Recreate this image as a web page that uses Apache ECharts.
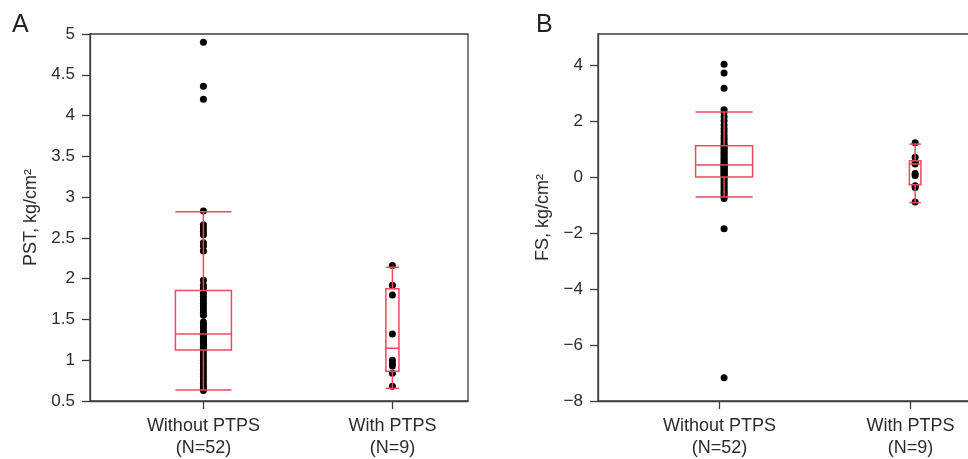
<!DOCTYPE html>
<html>
<head>
<meta charset="utf-8">
<script src="https://cdn.jsdelivr.net/npm/echarts@6/dist/echarts.min.js"></script>
<style>html,body{margin:0;padding:0;background:#fff}#c{width:968px;height:459px}</style>
</head>
<body>
<div id="c"></div>
<script>
// ---- data ----
const groups = ['Without PTPS\n(N=52)', 'With PTPS\n(N=9)'];
const pstWithout = [0.63, 0.65, 0.68, 0.72, 0.76, 0.80, 0.84, 0.88, 0.92, 0.96, 1.00, 1.04, 1.08, 1.12,
  1.14, 1.16, 1.18, 1.20, 1.22, 1.24, 1.26, 1.28, 1.30, 1.31, 1.32, 1.33,
  1.36, 1.40, 1.44, 1.47, 1.55, 1.58, 1.62, 1.66, 1.70, 1.74, 1.78, 1.82,
  1.88, 1.92, 1.98, 2.34, 2.40, 2.44, 2.54, 2.58, 2.62, 2.66, 2.83, 4.20, 4.36, 4.90];
const pstWith = [2.16, 1.92, 1.80, 1.32, 1.00, 0.96, 0.93, 0.84, 0.68];
const fsWithout = [-7.17, -1.85,
  -0.77, -0.70, -0.62, -0.55, -0.48, -0.40, -0.33, -0.25, -0.18, -0.10, -0.03,
  0.02, 0.06, 0.10, 0.14, 0.18, 0.22, 0.26, 0.30, 0.34, 0.38, 0.41, 0.42,
  0.43, 0.48, 0.54, 0.60, 0.66, 0.72, 0.78, 0.84, 0.90, 0.96, 1.02, 1.08, 1.12,
  1.18, 1.28, 1.38, 1.48, 1.60, 1.72, 1.85, 2.00, 2.15, 2.30, 2.40,
  3.16, 3.71, 4.02];
const fsWith = [1.22, 0.70, 0.52, 0.46, 0.12, 0.05, -0.32, -0.38, -0.90];
// box statistics [lower whisker, Q1, median, Q3, upper whisker]
const pstBoxWithout = [0.635, 1.126, 1.32, 1.854, 2.82];
const pstBoxWith = [0.655, 0.865, 1.147, 1.875, 2.14];
const fsBoxWithout = [-0.72, 0.0, 0.42, 1.11, 2.32];
const fsBoxWith = [-0.92, -0.28, 0.46, 0.58, 1.17];
// tick values
const pstTicks = [0.5, 1, 1.5, 2, 2.5, 3, 3.5, 4, 4.5, 5];
const fsTicks = [-8, -6, -4, -2, 0, 2, 4];

// ---- styles ----
const FF = '"Liberation Sans", Arial, Helvetica, sans-serif';
const AX = '#3c3c3c';
const TX = '#2b2b2b';
const RED = '#f0485e';
const boxWidthsA = [56, 13];
const boxWidthsB = [57, 11.5];

const fmtNum = v => (v < 0 ? '\u2212' + Math.abs(v) : String(v));

function makeY(gi, min, max, ticks, name, gap) {
  return {
    type: 'value', gridIndex: gi, min: min, max: max,
    axisLine: { show: true, lineStyle: { color: AX, width: 1.3 } },
    axisTick: { show: true, length: 8, customValues: ticks, lineStyle: { color: AX, width: 1.3 } },
    axisLabel: { customValues: ticks, color: TX, fontSize: 17, fontFamily: FF, margin: 15, formatter: fmtNum },
    splitLine: { show: false },
    name: name, nameLocation: 'middle', nameGap: gap,
    nameTextStyle: { color: TX, fontSize: 18, fontFamily: FF }
  };
}
function makeX(gi, min, max, tickPos) {
  return {
    type: 'value', gridIndex: gi, min: min, max: max,
    axisLine: { show: true, onZero: false, lineStyle: { color: AX, width: 1.3 } },
    axisTick: { show: true, length: 8, customValues: tickPos, lineStyle: { color: AX, width: 1.3 } },
    axisLabel: {
      customValues: tickPos, color: TX, fontSize: 18, fontFamily: FF, margin: 14, lineHeight: 22,
      formatter: v => groups[Math.round(v) - 1]
    },
    splitLine: { show: false }
  };
}
function scatterData(a, b) {
  return a.map(v => [1, v]).concat(b.map(v => [2, v]));
}
function boxSeries(gi, boxA, boxB, widths) {
  return {
    type: 'custom', xAxisIndex: gi, yAxisIndex: gi, z: 5, silent: true,
    data: [[1].concat(boxA), [2].concat(boxB)],
    renderItem: function (params, api) {
      const x = api.value(0);
      const p = [1, 2, 3, 4, 5].map(i => api.coord([x, api.value(i)]));
      const cx = p[0][0];
      const w = widths[params.dataIndex] / 2;
      const st = { stroke: RED, lineWidth: 1.5, fill: null };
      const line = (x1, y1, x2, y2) => ({ type: 'line', shape: { x1, y1, x2, y2 }, style: st });
      return {
        type: 'group',
        children: [
          line(cx - w, p[0][1], cx + w, p[0][1]),
          line(cx, p[0][1], cx, p[1][1]),
          { type: 'rect', shape: { x: cx - w, y: p[3][1], width: 2 * w, height: p[1][1] - p[3][1] }, style: { stroke: RED, lineWidth: 1.5, fill: 'none' } },
          line(cx - w, p[2][1], cx + w, p[2][1]),
          line(cx, p[3][1], cx, p[4][1]),
          line(cx - w, p[4][1], cx + w, p[4][1])
        ]
      };
    }
  };
}

const chart = echarts.init(document.getElementById('c'), null, { renderer: 'canvas' });
chart.setOption({
  animation: false,
  backgroundColor: '#fff',
  graphic: [
    { type: 'text', left: 12, top: 13, style: { text: 'A', font: '25px ' + FF, fill: '#222' } },
    { type: 'text', left: 536, top: 13, style: { text: 'B', font: '25px ' + FF, fill: '#222' } }
  ],
  grid: [
    { left: 90, top: 34, width: 378, height: 367, show: true, borderColor: AX, borderWidth: 1.3, backgroundColor: 'transparent', containLabel: false, outerBoundsMode: 'none' },
    { left: 598, top: 34, width: 384, height: 367, show: true, borderColor: AX, borderWidth: 1.3, backgroundColor: 'transparent', containLabel: false, outerBoundsMode: 'none' }
  ],
  xAxis: [makeX(0, 0.4, 2.4, [1, 2]), makeX(1, 0.34, 2.35, [0.976, 1.976])],
  yAxis: [
    makeY(0, 0.5, 5, pstTicks, 'PST, kg/cm²', 50),
    makeY(1, -8, 5.1, fsTicks, 'FS, kg/cm²', 46)
  ],
  series: [
    { type: 'scatter', xAxisIndex: 0, yAxisIndex: 0, z: 3, symbol: 'circle', symbolSize: 7, itemStyle: { color: '#000', opacity: 1 }, data: scatterData(pstWithout, pstWith) },
    boxSeries(0, pstBoxWithout, pstBoxWith, boxWidthsA),
    { type: 'scatter', xAxisIndex: 1, yAxisIndex: 1, z: 3, symbol: 'circle', symbolSize: 7, itemStyle: { color: '#000', opacity: 1 }, data: scatterData(fsWithout, fsWith) },
    boxSeries(1, fsBoxWithout, fsBoxWith, boxWidthsB)
  ]
});
</script>
</body>
</html>
